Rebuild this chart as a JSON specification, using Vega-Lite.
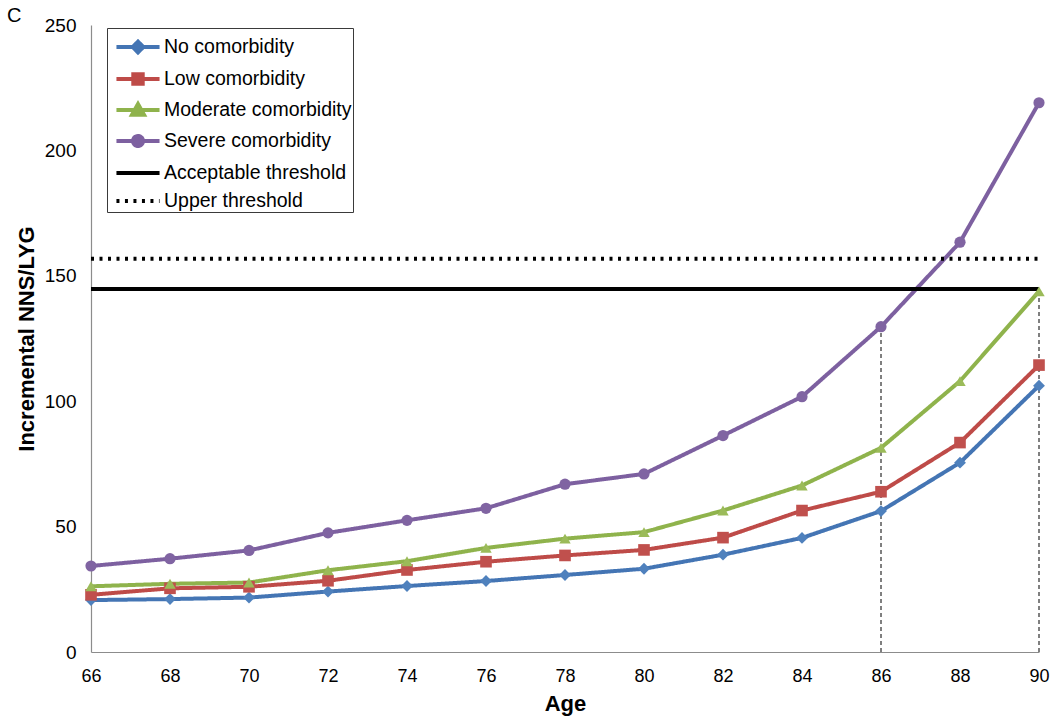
{
  "$schema": "https://vega.github.io/schema/vega-lite/v6.json",
  "width": 948,
  "height": 627,
  "autosize": "none",
  "padding": {"left": 91, "top": 25, "right": 11, "bottom": 66},
  "background": "white",
  "config": {
    "view": {"stroke": null},
    "font": "Liberation Sans",
    "axis": {"grid": false, "ticks": false, "labelFlush": false, "labelOverlap": false, "domainColor": "#8c8c8c", "domainWidth": 1.2, "labelFont": "Liberation Sans", "labelFontSize": 19, "labelColor": "black", "titleFont": "Liberation Sans", "titleFontSize": 22, "titleFontWeight": "bold", "titleColor": "black"}
  },
  "title": {"text": "C", "anchor": "start", "frame": "group", "dx": -84, "dy": 15, "offset": 5, "fontSize": 20, "fontWeight": "normal", "font": "Liberation Sans", "color": "black"},
  "datasets": {
    "series": [
      {"age": 66, "value": 20.7, "series": "No comorbidity"},
      {"age": 68, "value": 21.1, "series": "No comorbidity"},
      {"age": 70, "value": 21.7, "series": "No comorbidity"},
      {"age": 72, "value": 24.1, "series": "No comorbidity"},
      {"age": 74, "value": 26.3, "series": "No comorbidity"},
      {"age": 76, "value": 28.3, "series": "No comorbidity"},
      {"age": 78, "value": 30.7, "series": "No comorbidity"},
      {"age": 80, "value": 33.2, "series": "No comorbidity"},
      {"age": 82, "value": 38.8, "series": "No comorbidity"},
      {"age": 84, "value": 45.5, "series": "No comorbidity"},
      {"age": 86, "value": 56.2, "series": "No comorbidity"},
      {"age": 88, "value": 75.5, "series": "No comorbidity"},
      {"age": 90, "value": 106.2, "series": "No comorbidity"},
      {"age": 66, "value": 22.8, "series": "Low comorbidity"},
      {"age": 68, "value": 25.4, "series": "Low comorbidity"},
      {"age": 70, "value": 26.0, "series": "Low comorbidity"},
      {"age": 72, "value": 28.4, "series": "Low comorbidity"},
      {"age": 74, "value": 32.7, "series": "Low comorbidity"},
      {"age": 76, "value": 36.0, "series": "Low comorbidity"},
      {"age": 78, "value": 38.5, "series": "Low comorbidity"},
      {"age": 80, "value": 40.7, "series": "Low comorbidity"},
      {"age": 82, "value": 45.6, "series": "Low comorbidity"},
      {"age": 84, "value": 56.4, "series": "Low comorbidity"},
      {"age": 86, "value": 63.9, "series": "Low comorbidity"},
      {"age": 88, "value": 83.5, "series": "Low comorbidity"},
      {"age": 90, "value": 114.4, "series": "Low comorbidity"},
      {"age": 66, "value": 26.2, "series": "Moderate comorbidity"},
      {"age": 68, "value": 27.2, "series": "Moderate comorbidity"},
      {"age": 70, "value": 27.7, "series": "Moderate comorbidity"},
      {"age": 72, "value": 32.6, "series": "Moderate comorbidity"},
      {"age": 74, "value": 36.2, "series": "Moderate comorbidity"},
      {"age": 76, "value": 41.5, "series": "Moderate comorbidity"},
      {"age": 78, "value": 45.2, "series": "Moderate comorbidity"},
      {"age": 80, "value": 47.8, "series": "Moderate comorbidity"},
      {"age": 82, "value": 56.4, "series": "Moderate comorbidity"},
      {"age": 84, "value": 66.4, "series": "Moderate comorbidity"},
      {"age": 86, "value": 81.4, "series": "Moderate comorbidity"},
      {"age": 88, "value": 108.0, "series": "Moderate comorbidity"},
      {"age": 90, "value": 143.8, "series": "Moderate comorbidity"},
      {"age": 66, "value": 34.3, "series": "Severe comorbidity"},
      {"age": 68, "value": 37.2, "series": "Severe comorbidity"},
      {"age": 70, "value": 40.5, "series": "Severe comorbidity"},
      {"age": 72, "value": 47.5, "series": "Severe comorbidity"},
      {"age": 74, "value": 52.5, "series": "Severe comorbidity"},
      {"age": 76, "value": 57.3, "series": "Severe comorbidity"},
      {"age": 78, "value": 66.9, "series": "Severe comorbidity"},
      {"age": 80, "value": 71.0, "series": "Severe comorbidity"},
      {"age": 82, "value": 86.3, "series": "Severe comorbidity"},
      {"age": 84, "value": 101.8, "series": "Severe comorbidity"},
      {"age": 86, "value": 129.7, "series": "Severe comorbidity"},
      {"age": 88, "value": 163.4, "series": "Severe comorbidity"},
      {"age": 90, "value": 219.0, "series": "Severe comorbidity"},
      {"age": 66, "value": 144.7, "series": "Acceptable threshold"},
      {"age": 90, "value": 144.7, "series": "Acceptable threshold"},
      {"age": 66, "value": 156.8, "series": "Upper threshold"},
      {"age": 90, "value": 156.8, "series": "Upper threshold"}
    ],
    "drops": [
      {"age": 86, "low": 0, "high": 129.7},
      {"age": 90, "low": 0, "high": 143.8}
    ]
  },
  "layer": [
    {
      "data": {"name": "drops"},
      "mark": {"type": "rule", "color": "black", "strokeWidth": 1, "strokeDash": [4, 3]},
      "encoding": {
        "x": {"field": "age", "type": "quantitative", "scale": {"domain": [66, 90], "nice": false}},
        "y": {"field": "low", "type": "quantitative", "scale": {"domain": [0, 250], "nice": false}},
        "y2": {"field": "high"}
      }
    },
    {
      "data": {"name": "series"},
      "mark": {"type": "line"},
      "encoding": {
        "x": {"field": "age", "type": "quantitative", "scale": {"domain": [66, 90], "nice": false},
          "axis": {"values": [66, 68, 70, 72, 74, 76, 78, 80, 82, 84, 86, 88, 90], "labelFontSize": 18, "labelPadding": 15, "title": "Age", "titlePadding": 8}},
        "y": {"field": "value", "type": "quantitative", "scale": {"domain": [0, 250], "nice": false},
          "axis": {"values": [0, 50, 100, 150, 200, 250], "labelPadding": 15, "title": "Incremental NNS/LYG", "titlePadding": 6}},
        "color": {
          "field": "series", "type": "nominal",
          "scale": {
            "domain": ["No comorbidity", "Low comorbidity", "Moderate comorbidity", "Severe comorbidity", "Acceptable threshold", "Upper threshold"],
            "range": ["#4475B4", "#BE4B48", "#8FB34C", "#7D60A0", "#000000", "#000000"]
          },
          "legend": {
            "title": null,
            "orient": "none",
            "legendX": 16,
            "legendY": 3,
            "padding": 1,
            "rowPadding": 0,
            "symbolSize": 990,
            "symbolOffset": 12,
            "labelOffset": 8,
            "labelFontSize": 19.5,
            "labelLimit": 400,
            "labelFont": "Liberation Sans",
            "labelColor": "black",
            "fillColor": "white",
            "strokeColor": "#3a3a3a",
            "symbolStrokeWidth": 3,
            "encode": {
              "symbols": {
                "update": {
                  "shape": {"signal": "datum.value === 'No comorbidity' ? 'M-1.37,0L1.37,0M0,-0.34L0.34,0L0,0.34L-0.34,0Z' : datum.value === 'Low comorbidity' ? 'M-1.37,0L1.37,0M-0.3,-0.3L0.3,-0.3L0.3,0.3L-0.3,0.3Z' : datum.value === 'Moderate comorbidity' ? 'M-1.37,0L1.37,0M0,-0.38L0.38,0.3L-0.38,0.3Z' : datum.value === 'Severe comorbidity' ? 'M-1.37,0L1.37,0M0.32,0A0.32,0.32,0,1,1,-0.32,0A0.32,0.32,0,1,1,0.32,0Z' : 'M-1.37,0L1.37,0'"},
                  "fill": {"scale": "color", "field": "value"},
                  "stroke": {"scale": "color", "field": "value"},
                  "fillOpacity": {"value": 1},
                  "opacity": {"value": 1},
                  "strokeWidth": {"signal": "datum.value === 'Upper threshold' ? 2.5 : 3"},
                  "strokeDash": {"signal": "datum.value === 'Upper threshold' ? [2.5, 3.5] : [1, 0]"}
                }
              }
            }
          }
        },
        "strokeWidth": {
          "field": "series", "type": "nominal",
          "scale": {
            "domain": ["No comorbidity", "Low comorbidity", "Moderate comorbidity", "Severe comorbidity", "Acceptable threshold", "Upper threshold"],
            "range": [4, 4, 4, 2.7, 2.7, 3]
          },
          "legend": null
        },
        "strokeDash": {
          "field": "series", "type": "nominal",
          "scale": {
            "domain": ["No comorbidity", "Low comorbidity", "Moderate comorbidity", "Severe comorbidity", "Acceptable threshold", "Upper threshold"],
            "range": [[1, 0], [1, 0], [1, 0], [1, 0], [1, 0], [3, 5.5]]
          },
          "legend": null
        }
      }
    },
    {
      "data": {"name": "series"},
      "transform": [{"filter": "datum.series !== 'Acceptable threshold' && datum.series !== 'Upper threshold'"}],
      "mark": {"type": "point", "filled": true, "opacity": 1},
      "encoding": {
        "x": {"field": "age", "type": "quantitative"},
        "y": {"field": "value", "type": "quantitative"},
        "fill": {
          "field": "series", "type": "nominal",
          "scale": {
            "domain": ["No comorbidity", "Low comorbidity", "Moderate comorbidity", "Severe comorbidity"],
            "range": ["#4F81BD", "#C0504D", "#9BBB59", "#8064A2"]
          },
          "legend": null
        },
        "shape": {
          "field": "series", "type": "nominal",
          "scale": {
            "domain": ["No comorbidity", "Low comorbidity", "Moderate comorbidity", "Severe comorbidity"],
            "range": ["diamond", "square", "triangle-up", "circle"]
          },
          "legend": null
        },
        "size": {
          "field": "series", "type": "nominal",
          "scale": {
            "domain": ["No comorbidity", "Low comorbidity", "Moderate comorbidity", "Severe comorbidity"],
            "range": [140, 125, 160, 115]
          },
          "legend": null
        }
      }
    }
  ]
}
